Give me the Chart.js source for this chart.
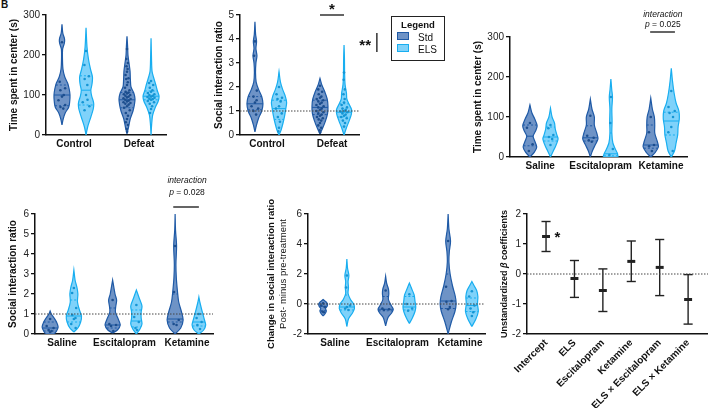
<!DOCTYPE html>
<html>
<head>
<meta charset="utf-8">
<script src="https://cdn.jsdelivr.net/npm/chart.js@4.4.1/dist/chart.umd.min.js"></script>
<style>
  body { margin: 0; width: 708px; height: 408px; background: #fff; position: relative; overflow: hidden; font-family: "Liberation Sans", Arial, sans-serif; color: #111; }
  canvas { position: absolute; left: 0; top: 0; }
  #legend { position: absolute; left: 391px; top: 16px; width: 52px; height: 43px; border: 1.5px solid #222; }
  #legend .ttl { position: absolute; left: 0; right: 0; top: 2px; text-align: center; font-weight: bold; font-size: 9.5px; }
  #legend .row { position: absolute; left: 5px; font-size: 10px; line-height: 11px; }
  #legend .sw { display: inline-block; width: 10px; height: 6px; margin-right: 9px; vertical-align: 1px; }
  #letter { position: absolute; left: 1px; top: -1px; font-weight: bold; font-size: 10px; }
</style>
</head>
<body>
<div id="letter">B</div>
<canvas id="cA" width="708" height="408"></canvas>
<canvas id="cB" width="708" height="408"></canvas>
<canvas id="cC" width="708" height="408"></canvas>
<canvas id="cD" width="708" height="408"></canvas>
<canvas id="cE" width="708" height="408"></canvas>
<canvas id="cF" width="708" height="408"></canvas>
<div id="legend">
  <div class="ttl">Legend</div>
  <div class="row" style="top:15px"><span class="sw" style="background:#6e93c6;border:1px solid #1f5aa6"></span>Std</div>
  <div class="row" style="top:27px"><span class="sw" style="background:#7fd2fa;border:1px solid #18aef0"></span>ELS</div>
</div>
<script>
// ---- data ----
// violin: shape = [value, relative half-width] knots, med/q1/q3 lines, dots = individual values
const catsA = ['Control', 'Defeat'];
const stdA = [
  { shape: [[25,0],[40,0.15],[55,0.4],[70,0.85],[85,0.97],[100,1],[115,0.9],[130,0.7],[145,0.35],[165,0.12],[190,0.06],[215,0.08],[230,0.3],[240,0.32],[255,0.1],[277,0]],
    med: 100, q1: 73, q3: 125, dots: [232,133,117,112,100,96,87,75,70,66] },
  { shape: [[3,0],[20,0.2],[40,0.4],[60,0.75],[75,0.92],[90,1],[105,0.85],[120,0.5],[140,0.42],[160,0.38],[180,0.25],[200,0.12],[220,0.08],[247,0]],
    med: 88, q1: 68, q3: 106,
    dots: [215,190,180,172,165,158,150,142,140,132,125,118,112,108,106,104,102,100,98,96,94,92,90,88,86,84,82,80,78,76,72,68,62,55,48,40,32,25,15,8] }
];
const elsA = [
  { shape: [[0,0],[20,0.2],[45,0.6],[65,0.9],[80,0.95],[98,0.7],[112,0.6],[128,0.75],[145,0.8],[165,0.55],[190,0.3],[220,0.12],[268,0]],
    med: 112, q1: 75, q3: 148, dots: [210,175,147,140,125,100,82,72,62,88] },
  { shape: [[0,0],[25,0.07],[50,0.2],[70,0.55],[85,0.9],[97,1],[110,0.8],[125,0.6],[135,0.45],[145,0.3],[160,0.12],[190,0.06],[242,0]],
    med: 97, q1: 88, q3: 110,
    dots: [135,130,125,118,112,108,105,102,100,98,96,95,93,91,90,88,85,82,78,72,65,55] }
];

const catsB = ['Control', 'Defeat'];
const stdB = [
  { shape: [[0.13,0],[0.4,0.18],[0.7,0.45],[1.0,0.85],[1.3,1],[1.6,0.85],[1.9,0.45],[2.2,0.15],[2.6,0.07],[3.0,0.12],[3.3,0.25],[3.6,0.12],[3.9,0.2],[4.2,0.08],[4.72,0]],
    med: 1.3, q1: 1.05, q3: 1.6, dots: [3.9,3.3,1.85,1.6,1.45,1.35,1.2,1.1,1.0,0.85] },
  { shape: [[0.05,0],[0.3,0.35],[0.6,0.7],[0.9,0.95],[1.2,1],[1.5,0.9],[1.8,0.6],[2.1,0.22],[2.36,0]],
    med: 1.15, q1: 0.85, q3: 1.45,
    dots: [2.05,1.9,1.8,1.7,1.6,1.55,1.5,1.45,1.4,1.35,1.3,1.25,1.2,1.15,1.1,1.05,1.0,0.95,0.9,0.85,0.8,0.75,0.7,0.65,0.6,0.5,0.4,0.3,0.2,0.1] }
];
const elsB = [
  { shape: [[0,0],[0.2,0.25],[0.5,0.5],[0.8,0.7],[1.1,0.85],[1.35,0.95],[1.6,0.8],[1.9,0.45],[2.2,0.18],[2.64,0]],
    med: 1.1, q1: 0.65, q3: 1.45, dots: [2.0,1.7,1.55,1.5,1.4,1.2,1.1,0.9,0.75,0.55,0.3,0.15] },
  { shape: [[0,0],[0.3,0.3],[0.6,0.65],[0.85,0.9],[1.05,0.95],[1.3,0.6],[1.5,0.35],[1.75,0.3],[2.1,0.13],[2.6,0.07],[3.2,0.05],[3.75,0]],
    med: 0.95, q1: 0.75, q3: 1.3,
    dots: [2.6,2.3,1.9,1.7,1.5,1.35,1.25,1.15,1.1,1.05,1.0,0.98,0.95,0.9,0.85,0.8,0.75,0.7,0.6,0.5,0.35] }
];

const catsTx = ['Saline', 'Escitalopram', 'Ketamine'];
const stdC = [
  { shape: [[0,0],[12,0.55],[25,0.85],[40,0.6],[52,0.4],[65,0.7],[78,0.9],[95,0.6],[110,0.25],[130,0]], med: 52, q1: 28, q3: 80, dots: [85,73,32,15] },
  { shape: [[0,0],[15,0.25],[30,0.6],[45,0.95],[60,0.8],[80,0.5],[100,0.5],[120,0.2],[145,0]], med: 48, q1: 40, q3: 78, dots: [103,53,48,42,38] },
  { shape: [[0,0],[10,0.5],[25,0.95],[40,0.8],[60,0.5],[80,0.5],[100,0.45],[120,0.2],[147,0]], med: 30, q1: 22, q3: 80, dots: [100,62,30,27,15] }
];
const elsC = [
  { shape: [[0,0],[15,0.35],[30,0.7],[45,0.95],[55,0.8],[70,0.6],[85,0.5],[100,0.2],[122,0]], med: 50, q1: 40, q3: 75, dots: [80,72,55,50,45,30] },
  { shape: [[0,0.9],[10,0.8],[20,0.55],[35,0.25],[60,0.12],[90,0.15],[120,0.12],[150,0.2],[170,0.1],[195,0]], med: 8, q1: 3, q3: 60, dots: [150,85,20,5] },
  { shape: [[0,0],[15,0.4],[35,0.6],[55,0.8],[75,0.85],[95,1],[115,0.95],[135,0.6],[160,0.35],[190,0.15],[222,0]], med: 90, q1: 55, q3: 112, dots: [165,125,115,110,100,75,62,15] }
];

const stdD = [
  { shape: [[0,0.5],[0.15,0.8],[0.35,1],[0.6,0.8],[0.8,0.5],[1.0,0.15],[1.15,0]], med: 0.3, q1: 0.15, q3: 0.6, dots: [0.75,0.4,0.3,0.2,0.15,0.1] },
  { shape: [[0.05,0],[0.2,0.6],[0.45,0.95],[0.75,0.7],[1.1,0.35],[1.4,0.4],[1.7,0.5],[2.0,0.3],[2.7,0]], med: 0.45, q1: 0.3, q3: 1.3, dots: [1.7,0.5,0.45,0.4,0.15] },
  { shape: [[0,0],[0.3,0.7],[0.7,1],[1.1,0.8],[1.6,0.45],[2.1,0.3],[2.8,0.15],[3.5,0.1],[4.4,0.18],[5.2,0.05],[6,0]], med: 0.75, q1: 0.6, q3: 2.0, dots: [4.4,2.1,0.7,0.5,0.45] }
];
const elsD = [
  { shape: [[0.1,0],[0.3,0.5],[0.6,0.85],[0.9,0.95],[1.2,0.7],[1.6,0.45],[2.0,0.5],[2.3,0.4],[2.7,0.15],[3.2,0]], med: 0.9, q1: 0.6, q3: 1.7, dots: [2.3,2.05,1.3,0.95,0.8,0.75,0.5,0.3] },
  { shape: [[0,0],[0.25,0.45],[0.5,0.7],[0.8,0.6],[1.1,0.6],[1.4,0.7],[1.8,0.35],[2.2,0]], med: 0.65, q1: 0.35, q3: 1.2, dots: [1.45,0.85,0.6,0.3,0.2] },
  { shape: [[0,0],[0.2,0.6],[0.45,0.85],[0.7,0.7],[1.0,0.5],[1.3,0.3],[1.6,0.12],[1.85,0]], med: 0.6, q1: 0.4, q3: 1.0, dots: [1.0,0.8,0.6,0.45,0.25] }
];

const stdE = [
  { shape: [[-0.8,0],[-0.6,0.3],[-0.45,0.4],[-0.3,0.3],[-0.15,0.5],[0,0.55],[0.15,0.35],[0.3,0]], med: -0.15, q1: -0.45, q3: 0, dots: [0.05,-0.1,-0.2,-0.5,-0.55] },
  { shape: [[-1.45,0],[-0.9,0.3],[-0.6,0.75],[-0.35,0.95],[-0.1,0.7],[0.3,0.35],[0.7,0.4],[1.0,0.35],[1.4,0.12],[1.85,0]], med: -0.35, q1: -0.45, q3: 0.5, dots: [0.9,-0.3,-0.35,-0.4] },
  { shape: [[-2,0],[-1.2,0.4],[-0.5,0.85],[0,1],[0.5,0.9],[1.2,0.55],[2.0,0.25],[2.8,0.1],[3.5,0.15],[4.2,0.3],[5,0.1],[6,0]], med: 0.2, q1: -0.3, q3: 2.0, dots: [4.2,1.15,0.2,0.15,-0.2,-0.35] }
];
const elsE = [
  { shape: [[-1.5,0],[-1.0,0.2],[-0.6,0.7],[-0.3,0.95],[0,0.85],[0.3,0.45],[0.7,0.15],[1.1,0.2],[1.5,0.15],[1.9,0.25],[2.4,0.08],[3.0,0]], med: -0.2, q1: -0.4, q3: 0.6, dots: [1.9,1.1,-0.1,-0.3,-0.4,-0.2] },
  { shape: [[-1.3,0],[-0.9,0.4],[-0.5,0.7],[-0.2,0.8],[0.2,0.7],[0.6,0.6],[1.0,0.3],[1.4,0]], med: -0.2, q1: -0.4, q3: 0.5, dots: [0.65,0.0,-0.3,-0.45] },
  { shape: [[-1.5,0],[-1.0,0.5],[-0.5,0.8],[0,0.7],[0.5,0.75],[0.9,0.6],[1.2,0.3],[1.5,0]], med: -0.1, q1: -0.5, q3: 0.4, dots: [0.85,0.5,-0.1,-0.3,-0.55,-0.8] }
];

const coefLabels = ['Intercept', 'ELS', 'Escitalopram', 'Ketamine', 'ELS × Escitalopram', 'ELS × Ketamine'];
const coefMean = [1.25, -0.15, -0.55, 0.42, 0.22, -0.85];
const coefLow = [0.75, -0.78, -1.25, -0.25, -0.72, -1.67];
const coefHigh = [1.75, 0.45, 0.17, 1.1, 1.15, -0.02];

// ---- styles ----
const FONT = '"Liberation Sans", Arial, sans-serif';
const STD = { fill: '#6e93c6', line: '#1f5aa6', dot: '#1c4e8e' };
const ELS = { fill: '#7fd2fa', line: '#18aef0', dot: '#1595d4' };
const HALF_PX = 8;

Chart.defaults.font.family = FONT;
Chart.defaults.font.size = 10;
Chart.defaults.color = '#111';

function widthAt(shape, y) {
  if (y < shape[0][0] || y > shape[shape.length - 1][0]) return 0;
  for (let i = 1; i < shape.length; i++) {
    const [y0, w0] = shape[i - 1], [y1, w1] = shape[i];
    if (y <= y1) return w0 + (w1 - w0) * (y - y0) / ((y1 - y0) || 1);
  }
  return 0;
}

function violin(v, cx, hw, col) {
  const right = v.shape.map(([y, w]) => ({ x: cx + w * hw, y }));
  const left = v.shape.slice().reverse().map(([y, w]) => ({ x: cx - w * hw, y }));
  const sets = [{
    data: right.concat(left, [right[0]]), borderColor: col.line, backgroundColor: col.fill,
    fill: 'shape', borderWidth: 1.2, pointRadius: 0, tension: 0.3, order: 3
  }];
  [['med', []], ['q1', [2, 2]], ['q3', [2, 2]]].forEach(([k, dash]) => {
    const w = widthAt(v.shape, v[k]) * hw;
    sets.push({ data: [{ x: cx - w, y: v[k] }, { x: cx + w, y: v[k] }], borderColor: col.line,
      borderWidth: 1, borderDash: dash, pointRadius: 0, fill: false, order: 2 });
  });
  const spread = [0, -0.45, 0.45, -0.22, 0.22];
  sets.push({
    data: v.dots.map((y, i) => ({ x: cx + spread[i % 5] * widthAt(v.shape, y) * hw, y })),
    showLine: false, pointRadius: 1.3, pointBackgroundColor: col.dot, pointBorderColor: col.dot,
    pointBorderWidth: 0, order: 1
  });
  return sets;
}

function refLine(y, xmin, xmax) {
  return { data: [{ x: xmin, y }, { x: xmax, y }], borderColor: '#444', borderWidth: 1,
    borderDash: [1.5, 1.5], pointRadius: 0, fill: false, order: 0 };
}

// draws texts, small lines and vertical titles in data / chart-area coordinates
function annotations(items) {
  return {
    id: 'annot',
    afterDatasetsDraw(chart) {
      const { ctx, scales: { x, y }, chartArea } = chart;
      items.forEach(it => {
        ctx.save();
        ctx.fillStyle = '#111';
        ctx.strokeStyle = '#111';
        if (it.line) {
          ctx.lineWidth = 1.3;
          ctx.beginPath();
          ctx.moveTo(x.getPixelForValue(it.line[0]), y.getPixelForValue(it.line[1]));
          ctx.lineTo(x.getPixelForValue(it.line[2]), y.getPixelForValue(it.line[3]));
          ctx.stroke();
        } else {
          let px, py;
          if (it.vtitle) {
            px = chartArea.left + it.dx;
            py = (chartArea.top + chartArea.bottom) / 2;
            ctx.translate(px, py);
            ctx.rotate(-Math.PI / 2);
            px = 0; py = 0;
          } else {
            px = x.getPixelForValue(it.x);
            py = y.getPixelForValue(it.y);
          }
          ctx.textBaseline = 'middle';
          ctx.textAlign = 'left';
          const widths = it.parts.map(([t, f]) => { ctx.font = f; return ctx.measureText(t).width; });
          const total = widths.reduce((a, b) => a + b, 0);
          let cx = it.align === 'left' ? px : px - total / 2;
          it.parts.forEach(([t, f], i) => { ctx.font = f; ctx.fillText(t, cx, py); cx += widths[i]; });
        }
        ctx.restore();
      });
    }
  };
}

function makeChart(id, L, cats, datasets, items) {
  const rot = L.rot || 0;
  new Chart(document.getElementById(id), {
    type: 'line',
    data: { datasets },
    options: {
      responsive: false,
      animation: false,
      events: [],
      layout: { autoPadding: false, padding: { left: L.pl, top: L.yT, right: 708 - L.xR, bottom: 408 - L.yB - L.xh } },
      plugins: { legend: { display: false }, tooltip: { enabled: false } },
      scales: {
        x: {
          type: 'linear', min: L.xmin, max: L.xmax,
          afterFit: s => { s.height = L.xh; },
          afterBuildTicks: s => { s.ticks = cats.map((c, i) => ({ value: i })); },
          ticks: { callback: v => cats[v], font: { weight: 'bold', size: 10 }, color: '#111', padding: 3,
            autoSkip: false, minRotation: rot, maxRotation: rot },
          grid: { display: false, drawTicks: false },
          border: { color: '#111', width: 1.5 }
        },
        y: {
          min: L.ymin, max: L.ymax,
          afterFit: s => { s.width = L.xL - L.pl; },
          ticks: { stepSize: L.step, font: { size: 10 }, color: '#222', padding: 2 },
          grid: { drawOnChartArea: false, tickLength: 4, color: '#111', lineWidth: 1.3 },
          border: { color: '#111', width: 1.5 },
          title: { display: !!L.title, text: L.title, font: { size: L.tsize || 10, weight: 'bold' }, color: '#111', padding: 0 }
        }
      }
    },
    plugins: [annotations(items || [])]
  });
}

function violinSets(L, std, els, off) {
  const hw = HALF_PX * (L.xmax - L.xmin) / (L.xR - L.xL);
  let sets = [];
  std.forEach((v, i) => { sets = sets.concat(violin(v, i - off, hw, STD)); });
  els.forEach((v, i) => { sets = sets.concat(violin(v, i + off, hw, ELS)); });
  return sets;
}

const B10 = 'bold 15px ' + FONT;
const IT = 'italic 8.5px ' + FONT;
const RG = '8.5px ' + FONT;

// Panel A
const LA = { pl: 8, xL: 46, xR: 166, yT: 15, yB: 135, xh: 20, xmin: -0.431, xmax: 1.415, ymin: 0, ymax: 300, step: 100, title: 'Time spent in center (s)' };
makeChart('cA', LA, catsA, violinSets(LA, stdA, elsA, 0.185));

// Panel B
const LB = { pl: 213, xL: 240, xR: 359, yT: 15, yB: 135, xh: 20, xmin: -0.415, xmax: 1.415, ymin: 0, ymax: 5, step: 1, title: 'Social interaction ratio' };
makeChart('cB', LB, catsB, [refLine(1, LB.xmin, LB.xmax)].concat(violinSets(LB, stdB, elsB, 0.185)), [
  { x: 1, y: 5.21, parts: [['*', B10]] },
  { line: [0.815, 5.0, 1.185, 5.0] },
  { x: 1.51, y: 3.71, parts: [['**', B10]] },
  { line: [1.69, 4.25, 1.69, 3.46] }
]);

// Panel C
const LC = { pl: 472, xL: 510, xR: 687, yT: 37, yB: 157, xh: 20, xmin: -0.5, xmax: 2.43, ymin: 0, ymax: 300, step: 100, title: 'Time spent in center (s)' };
makeChart('cC', LC, catsTx, violinSets(LC, stdC, elsC, 0.17), [
  { x: 2.03, y: 357, parts: [['interaction', IT]] },
  { x: 2.03, y: 330, parts: [['p', IT], [' = 0.025', RG]] },
  { line: [1.82, 312.5, 2.23, 312.5] }
]);

// Panel D
const LD = { pl: 7, xL: 35, xR: 213, yT: 214, yB: 334, xh: 20, xmin: -0.432, xmax: 2.416, ymin: 0, ymax: 6, step: 1, title: 'Social interaction ratio' };
makeChart('cD', LD, catsTx, [refLine(1, LD.xmin, LD.xmax)].concat(violinSets(LD, stdD, elsD, 0.19)), [
  { x: 2.0, y: 7.65, parts: [['interaction', IT]] },
  { x: 2.0, y: 7.05, parts: [['p', IT], [' = 0.028', RG]] },
  { line: [1.78, 6.35, 2.19, 6.35] }
]);

// Panel E
const LE = { pl: 266, xL: 308, xR: 485, yT: 214, yB: 334, xh: 20, xmin: -0.432, xmax: 2.4, ymin: -2, ymax: 6, step: 2, title: 'Change in social interaction ratio', tsize: 9.5 };
makeChart('cE', LE, catsTx, [refLine(0, LE.xmin, LE.xmax)].concat(violinSets(LE, stdE, elsE, 0.19)), [
  { vtitle: true, dx: -25, parts: [['Post- minus pre-treatment', '9.5px ' + FONT]] }
]);

// Panel F
const LF = { pl: 499, xL: 527, xR: 708, yT: 214, yB: 334, xh: 74, xmin: -0.67, xmax: 5.7, ymin: -2, ymax: 2, step: 1, rot: 45 };
const barSets = [refLine(0, LF.xmin, LF.xmax)];
coefMean.forEach((m, i) => {
  const seg = (x0, y0, x1, y1, w) => ({ data: [{ x: x0, y: y0 }, { x: x1, y: y1 }], borderColor: '#222',
    borderWidth: w, pointRadius: 0, fill: false, order: 1 });
  barSets.push(seg(i, coefLow[i], i, coefHigh[i], 1.4));
  barSets.push(seg(i - 0.16, coefLow[i], i + 0.16, coefLow[i], 1.4));
  barSets.push(seg(i - 0.16, coefHigh[i], i + 0.16, coefHigh[i], 1.4));
  barSets.push(seg(i - 0.14, m, i + 0.14, m, 3));
});
makeChart('cF', LF, coefLabels, barSets, [
  { x: 0.3, y: 1.2, align: 'left', parts: [['*', B10]] },
  { vtitle: true, dx: -22, parts: [['Unstandardized ', 'bold 9px ' + FONT], ['β', 'bold italic 9px ' + FONT], [' coefficients', 'bold 9px ' + FONT]] }
]);
</script>
</body>
</html>
